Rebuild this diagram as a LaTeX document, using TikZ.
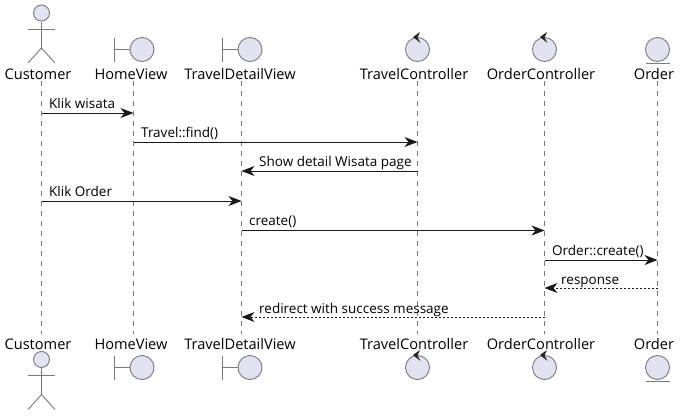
\documentclass[tikz,border=0pt]{standalone}
\usepackage{fontspec}
\setmainfont{Open Sans}
\usetikzlibrary{arrows.meta}

\definecolor{partfill}{HTML}{E2E2F0}
\definecolor{partline}{HTML}{7A7A7A}

\tikzset{
  partname/.style={font=\fontsize{14.6pt}{17pt}\selectfont, inner sep=0pt, text=black},
  msgname/.style={font=\fontsize{13.5pt}{15pt}\selectfont, inner sep=0pt, anchor=base west, text=black},
  figline/.style={draw=partline, line width=0.9pt},
  figbody/.style={figline, fill=partfill},
  lifeline/.style={draw=partline, line width=0.8pt, dash pattern=on 5pt off 5pt},
  msgline/.style={draw=black!90, line width=0.8pt, -{Stealth[length=13pt,width=10pt,inset=4pt]}},
  msgback/.style={msgline, dash pattern=on 2pt off 2pt}
}

% participant figures, #1 = x of lifeline, #2 = y of circle centre
\newcommand{\actorfig}[2]{
  \draw[figbody] (#1,#2-36.5) circle (8);
  \draw[figline] (#1,#2-28) -- (#1,#2-1.5) (#1-13.5,#2-20.5) -- (#1+13.5,#2-20.5);
  \draw[figline] (#1-13.5,#2+13.5) -- (#1,#2-1.5) -- (#1+13.5,#2+13.5);
}
\newcommand{\boundaryfig}[2]{
  \draw[figbody] (#1+8.5,#2) circle (12);
  \draw[figline] (#1-19.5,#2-12) -- (#1-19.5,#2+12) (#1-19.5,#2) -- (#1-3.5,#2);
}
\newcommand{\controlfig}[2]{
  \draw[figbody] (#1,#2) circle (12);
  \fill[black!85] (#1-4.5,#2-12.5) -- (#1+2.5,#2-17.5) -- (#1,#2-12) -- (#1+3,#2-6.5) -- cycle;
}
\newcommand{\entityfig}[2]{
  \draw[figbody] (#1,#2) circle (12);
  \draw[figline] (#1-12,#2+13.5) -- (#1+12,#2+13.5);
}

\begin{document}
\begin{tikzpicture}[x=1pt,y=-1pt]
  \useasboundingbox (0,0) rectangle (680,415);

  %% lifelines
  \foreach \name/\xpos in {customer/41.5,homeview/133.5,detailview/241.5,
    travelctl/417.5,orderctl/544.5,orderent/657.5}{
    \coordinate (\name) at (\xpos,0);
    \coordinate (\name top) at (\xpos,81);
    \coordinate (\name bot) at (\xpos,334);
    \draw[lifeline] (\name top) -- (\name bot);
  }

  %% names, top and bottom row
  \foreach \yname/\ypos in {top/74,bot/344}{
    \node[partname] (customer name \yname) at (38,\ypos) {Customer};
    \node[partname] (homeview name \yname) at (131,\ypos) {HomeView};
    \node[partname] (detailview name \yname) at (240,\ypos) {TravelDetailView};
    \node[partname] (travelctl name \yname) at (414,\ypos) {TravelController};
    \node[partname] (orderctl name \yname) at (541,\ypos) {OrderController};
    \node[partname] (orderent name \yname) at (654,\ypos) {Order};
  }

  %% figures
  \actorfig{41.5}{49.5}
  \actorfig{41.5}{396}
  \foreach \ypos in {49.5,367.5}{
    \boundaryfig{133.5}{\ypos}
    \boundaryfig{241.5}{\ypos}
    \controlfig{417.5}{\ypos}
    \controlfig{544.5}{\ypos}
    \entityfig{657.5}{\ypos}
  }

  %% messages
  \draw[msgline] (customer |- 0,113) -- (homeview |- 0,113);
  \node[msgname] (msg find a) at (49,108.5) {Klik wisata};
  \draw[msgline] (homeview |- 0,142) -- (travelctl |- 0,142);
  \node[msgname] (msg find b) at (141,137.5) {Travel::find()};
  \draw[msgline] (travelctl |- 0,171) -- (detailview |- 0,171);
  \node[msgname] (msg show) at (259,166.5) {Show detail Wisata page};
  \draw[msgline] (customer |- 0,201) -- (detailview |- 0,201);
  \node[msgname] (msg order) at (49,196) {Klik Order};
  \draw[msgline] (detailview |- 0,230.5) -- (orderctl |- 0,230.5);
  \node[msgname] (msg create) at (249,225) {create()};
  \draw[msgline] (orderctl |- 0,260) -- (orderent |- 0,260);
  \node[msgname] (msg ocreate) at (552,255) {Order::create()};
  \draw[msgback] (orderent |- 0,288) -- (orderctl |- 0,288);
  \node[msgname] (msg resp) at (561,284) {response};
  \draw[msgback] (orderctl |- 0,317) -- (detailview |- 0,317);
  \node[msgname] (msg redirect) at (259,313) {redirect with success message};
\end{tikzpicture}
\end{document}
